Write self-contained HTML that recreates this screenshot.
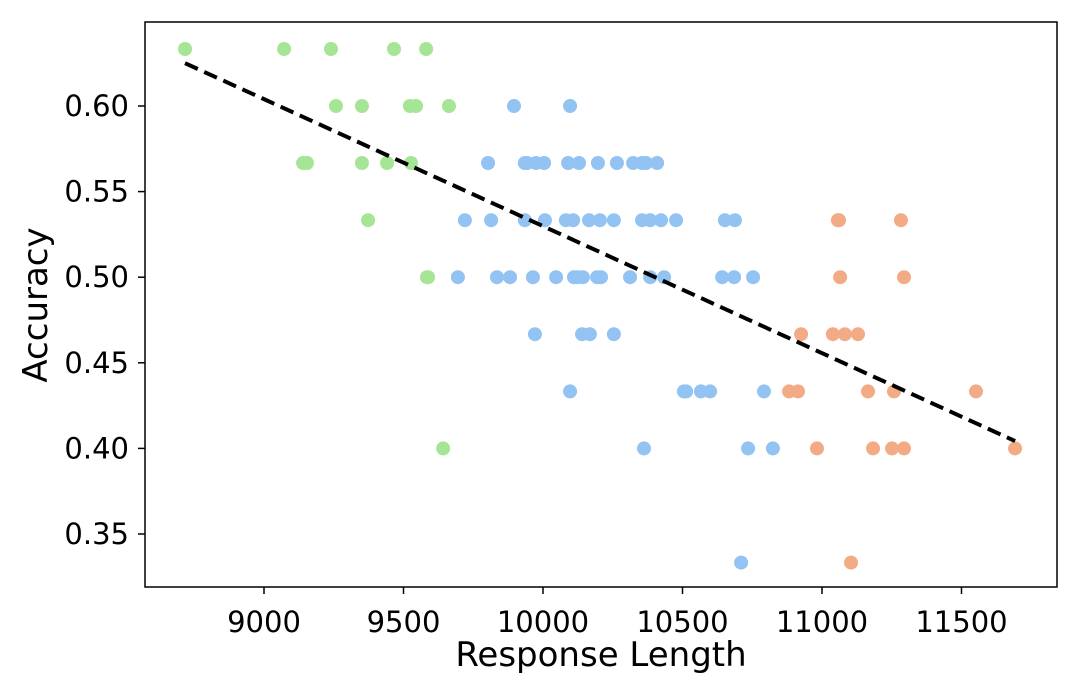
<!DOCTYPE html>
<html><head><meta charset="utf-8"><style>
body{margin:0;background:#fff;}
svg text{font-family:"DejaVu Sans","Liberation Sans",sans-serif;fill:#000;}
</style></head><body>
<svg id="chart" width="1080" height="694" xmlns="http://www.w3.org/2000/svg">
<rect x="145" y="22" width="912" height="565" fill="#fff" stroke="#000" stroke-width="1.5"/>
<g id="marks"></g>
<g id="axes"></g>
<text x="601" y="666" font-size="34" text-anchor="middle">Response Length</text>
<text transform="translate(47,305) rotate(-90)" font-size="34" text-anchor="middle">Accuracy</text>
</svg>
<script>
const greenX=[8717,9072,9240,9466,9581,9258,9351,9523,9545,9663,9140,9154,9351,9441,9527,9373,9584,9588,9642];
const greenY=[0.6333,0.6333,0.6333,0.6333,0.6333,0.6,0.6,0.6,0.6,0.6,0.5667,0.5667,0.5667,0.5667,0.5667,0.5333,0.5,0.5,0.4];
const blueX=[9896,10097,9803,9935,9943,9975,10004,10090,10129,10197,10265,10323,10355,10369,10409,9720,9814,9935,10007,10082,10108,10165,10204,10254,10355,10384,10423,10477,10652,10688,9695,9835,9882,9964,10047,10111,10125,10143,10194,10208,10312,10384,10434,10642,10685,10753,9971,10140,10168,10254,10097,10505,10513,10566,10599,10792,10362,10735,10824,10710];
const blueY=[0.6,0.6,0.5667,0.5667,0.5667,0.5667,0.5667,0.5667,0.5667,0.5667,0.5667,0.5667,0.5667,0.5667,0.5667,0.5333,0.5333,0.5333,0.5333,0.5333,0.5333,0.5333,0.5333,0.5333,0.5333,0.5333,0.5333,0.5333,0.5333,0.5333,0.5,0.5,0.5,0.5,0.5,0.5,0.5,0.5,0.5,0.5,0.5,0.5,0.5,0.5,0.5,0.5,0.4667,0.4667,0.4667,0.4667,0.4333,0.4333,0.4333,0.4333,0.4333,0.4333,0.4,0.4,0.4,0.3333];
const orangeX=[11057,11061,11283,11065,11294,10925,11039,11082,11129,10882,10914,11165,11258,11552,10982,11183,11251,11294,11692,11104];
const orangeY=[0.5333,0.5333,0.5333,0.5,0.5,0.4667,0.4667,0.4667,0.4667,0.4333,0.4333,0.4333,0.4333,0.4333,0.4,0.4,0.4,0.4,0.4,0.3333];
const trendX=[8717,11692];
const trendY=[0.625,0.4043];
const xTicks=[9000,9500,10000,10500,11000,11500];
const yTicks=[0.35,0.40,0.45,0.50,0.55,0.60];
const sx=v=>264+(v-9000)*0.279;
const sy=v=>106-(v-0.60)*1712;
const NS="http://www.w3.org/2000/svg";
const marks=document.getElementById('marks'),axes=document.getElementById('axes');
function dots(xs,ys,color,name){
  xs.forEach((x,i)=>{
    const c=document.createElementNS(NS,'circle');
    c.setAttribute('cx',sx(x));c.setAttribute('cy',sy(ys[i]));c.setAttribute('r',7);c.setAttribute('fill',color);
    
    
    marks.appendChild(c);
  });
}
dots(greenX,greenY,'#a6e595','green-point');
dots(blueX,blueY,'#92c3f2','blue-point');
dots(orangeX,orangeY,'#f3ab86','orange-point');
const ln=document.createElementNS(NS,'line');
ln.setAttribute('x1',sx(trendX[0]));ln.setAttribute('y1',sy(trendY[0]));
ln.setAttribute('x2',sx(trendX[1]));ln.setAttribute('y2',sy(trendY[1]));
ln.setAttribute('stroke','#000');ln.setAttribute('stroke-width',4);ln.setAttribute('stroke-dasharray','14,7');


marks.appendChild(ln);
xTicks.forEach(t=>{
  const l=document.createElementNS(NS,'line');
  l.setAttribute('x1',sx(t));l.setAttribute('x2',sx(t));l.setAttribute('y1',587);l.setAttribute('y2',594);l.setAttribute('stroke','#000');l.setAttribute('stroke-width',1.5);
  
  
  axes.appendChild(l);
  const tx=document.createElementNS(NS,'text');
  tx.setAttribute('x',sx(t));tx.setAttribute('y',632);tx.setAttribute('font-size',29);tx.setAttribute('text-anchor','middle');
  tx.textContent=t;
  
  
  axes.appendChild(tx);
});
yTicks.forEach(t=>{
  const l=document.createElementNS(NS,'line');
  l.setAttribute('x1',138);l.setAttribute('x2',145);l.setAttribute('y1',sy(t));l.setAttribute('y2',sy(t));l.setAttribute('stroke','#000');l.setAttribute('stroke-width',1.5);
  
  
  axes.appendChild(l);
  const tx=document.createElementNS(NS,'text');
  tx.setAttribute('x',129);tx.setAttribute('y',sy(t)+10);tx.setAttribute('font-size',29);tx.setAttribute('text-anchor','end');
  tx.textContent=t.toFixed(2);
  
  
  axes.appendChild(tx);
});
</script>
</body></html>
